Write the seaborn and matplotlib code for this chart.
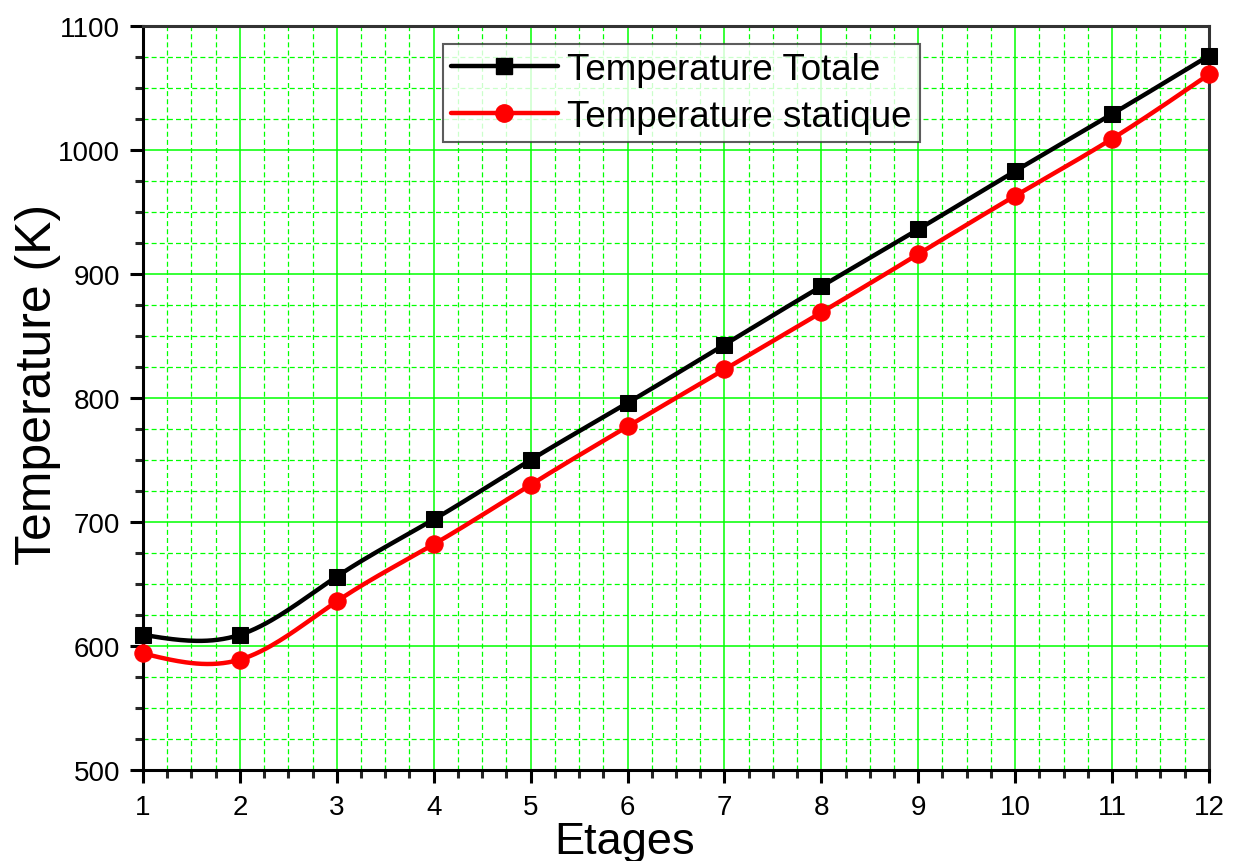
import numpy as np
import pandas as pd
import seaborn as sns
import matplotlib
matplotlib.use("Agg")
import matplotlib.pyplot as plt
from matplotlib.ticker import MultipleLocator

# valeurs
etages = [1, 2, 3, 4, 5, 6, 7, 8, 9, 10, 11, 12]
temp_totale = [609, 609, 656, 702, 750, 796, 843, 890, 936, 983, 1029, 1076]
temp_statique = [594, 589, 636, 682, 730, 777, 823, 869, 916, 963, 1009, 1061]


def spline_naturelle(x, y, n=400):
    # spline cubique naturelle (pour tracer la courbe lissée comme Origin)
    x = np.asarray(x, float)
    y = np.asarray(y, float)
    h = np.diff(x)
    k = len(x)
    A = np.zeros((k, k))
    b = np.zeros(k)
    A[0, 0] = A[-1, -1] = 1
    for i in range(1, k - 1):
        A[i, i - 1] = h[i - 1]
        A[i, i] = 2 * (h[i - 1] + h[i])
        A[i, i + 1] = h[i]
        b[i] = 3 * ((y[i + 1] - y[i]) / h[i] - (y[i] - y[i - 1]) / h[i - 1])
    c = np.linalg.solve(A, b)
    xs = np.linspace(x[0], x[-1], n)
    idx = np.clip(np.searchsorted(x, xs) - 1, 0, k - 2)
    dx = xs - x[idx]
    bb = (y[idx + 1] - y[idx]) / h[idx] - h[idx] * (2 * c[idx] + c[idx + 1]) / 3
    d = (c[idx + 1] - c[idx]) / (3 * h[idx])
    ys = y[idx] + bb * dx + c[idx] * dx ** 2 + d * dx ** 3
    return xs, ys


sns.set_theme(style="white")
plt.rcParams["font.family"] = ["Liberation Sans", "DejaVu Sans"]

fig, ax = plt.subplots(figsize=(12.35, 8.62), dpi=100)
fig.subplots_adjust(left=0.1158, right=0.9789, top=0.9687, bottom=0.1056)

series = [("Temperature Totale", temp_totale, "black", "s", 11),
          ("Temperature statique", temp_statique, "red", "o", 12.5)]

for nom, vals, col, mk, ms in series:
    xs, ys = spline_naturelle(etages, vals)
    courbe = pd.DataFrame({"x": xs, "y": ys})
    sns.lineplot(data=courbe, x="x", y="y", ax=ax, color=col, lw=3.2, zorder=3)
    pts = pd.DataFrame({"x": etages, "y": vals})
    sns.lineplot(data=pts, x="x", y="y", ax=ax, color=col, lw=0, marker=mk,
                 markersize=ms, markeredgecolor=col, zorder=4, clip_on=False)
    # entrée de légende
    ax.plot([], [], color=col, lw=3.2, marker=mk, markersize=ms, label=nom)

ax.set_xlim(1, 12)
ax.set_ylim(500, 1100)
ax.xaxis.set_major_locator(MultipleLocator(1))
ax.xaxis.set_minor_locator(MultipleLocator(0.25))
ax.yaxis.set_major_locator(MultipleLocator(100))
ax.yaxis.set_minor_locator(MultipleLocator(25))

ax.grid(which="major", color="#00ff00", lw=1.1, ls="-", zorder=0)
ax.grid(which="minor", color="#00ff00", lw=0.9, ls=(0, (4, 2.5)), zorder=0)
ax.set_axisbelow(True)

for s in ax.spines.values():
    s.set_color("black")
    s.set_linewidth(2.2)
ax.spines["top"].set_color("#333333")
ax.spines["right"].set_color("#333333")

ax.tick_params(which="major", direction="out", length=9.5, width=2.2,
               labelsize=20, colors="black", left=True, bottom=True, pad=7)
ax.tick_params(axis="x", which="major", pad=7.5)
ax.tick_params(which="minor", direction="out", length=5.5, width=2.2,
               left=True, bottom=True)

ax.set_xlabel("Etages", fontsize=32.5, color="black")
ax.xaxis.set_label_coords(0.452, -0.069)
ax.set_ylabel("Temperature (K)", fontsize=36, color="black")
ax.yaxis.set_label_coords(-0.077, 0.519)

h, l = ax.get_legend_handles_labels()
leg = ax.legend(h[-2:], l[-2:], loc="upper left", bbox_to_anchor=(0.2814, 0.9758),
                borderaxespad=0, fontsize=26.5, frameon=True, fancybox=False,
                edgecolor="#333333", handlelength=2.9, handletextpad=0.26,
                borderpad=0.22, labelspacing=0.33)
leg.get_frame().set_linewidth(1.5)
for t in leg.get_texts():
    t.set_color("black")

fig.savefig("out.png", dpi=100)
